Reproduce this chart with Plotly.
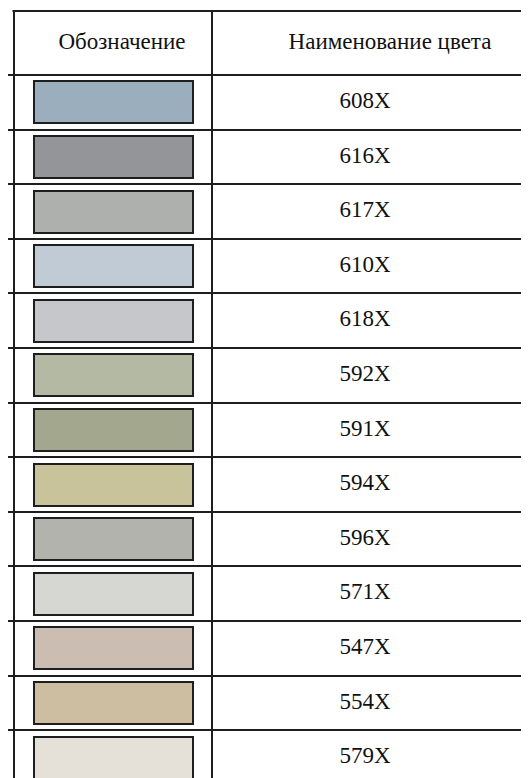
import plotly.graph_objects as go

# данные таблицы
zagolovki = ["Обозначение", "Наименование цвета"]
kody = ["608X", "616X", "617X", "610X", "618X", "592X", "591X",
        "594X", "596X", "571X", "547X", "554X", "579X"]
cveta = ["#9aaebd", "#949599", "#aeb0ad", "#c0cbd6", "#c6c7cb", "#b4b9a3", "#a3a78e",
         "#c9c39b", "#b3b3ae", "#d6d6d3", "#ccbdb2", "#cdbea2", "#e5e0d8"]

WIN_W, WIN_H = 529, 778
PAD = 8             # отступ body в браузере
TOP_M = 2           # верхнее поле фигуры
W, H = WIN_W - PAD, WIN_H - PAD
ROW = 54.6          # высота строки, px
HEAD = 64 / ROW     # высота заголовка в строках
stroki = list(range(len(kody)))

y_top = -0.5 - HEAD                                # верхняя граница таблицы (y=11px)
y_fig_top = y_top - (11 - PAD - TOP_M) / ROW       # верх области рисования
y_fig_bot = (WIN_H - 75) / ROW - 0.5
y_lines = [-0.5] + [i + 0.5 for i in stroki[:-1]]
x_lines = [13.5, 212]
LINE = "#1e1e1e"

fig = go.Figure()

# образцы цвета
fig.add_trace(go.Bar(
    y=stroki, x=[159] * len(kody), base=[34] * len(kody), orientation="h",
    width=42 / ROW,
    marker=dict(color=cveta, line=dict(color=LINE, width=2)),
    hoverinfo="skip", showlegend=False))

# верхняя граница таблицы
fig.add_trace(go.Scatter(
    x=[12.5, WIN_W + 5], y=[y_top, y_top], mode="lines",
    line=dict(color=LINE, width=2), hoverinfo="skip", showlegend=False))

# коды
fig.add_trace(go.Scatter(
    x=[365] * len(kody), y=stroki, mode="text", text=kody,
    textfont=dict(family="Liberation Serif", size=23, color="#111111"),
    hoverinfo="skip", showlegend=False))

# заголовки
fig.add_trace(go.Scatter(
    x=[122, 390], y=[-0.5 - HEAD / 2] * 2, mode="text", text=zagolovki,
    textfont=dict(family="Liberation Serif", size=23, color="#111111"),
    hoverinfo="skip", showlegend=False))

fig.update_xaxes(range=[PAD, WIN_W], tickvals=x_lines, showticklabels=False,
                 showgrid=True, gridcolor=LINE, gridwidth=2,
                 zeroline=False, fixedrange=True)
fig.update_yaxes(range=[y_fig_bot, y_fig_top], tickvals=y_lines,
                 showticklabels=False, showgrid=True, gridcolor=LINE,
                 gridwidth=2, zeroline=False, fixedrange=True)

fig.update_layout(width=W, height=H, margin=dict(l=0, r=0, t=TOP_M, b=0),
                  paper_bgcolor="white", plot_bgcolor="white", bargap=0)

fig.write_html("out.html")
